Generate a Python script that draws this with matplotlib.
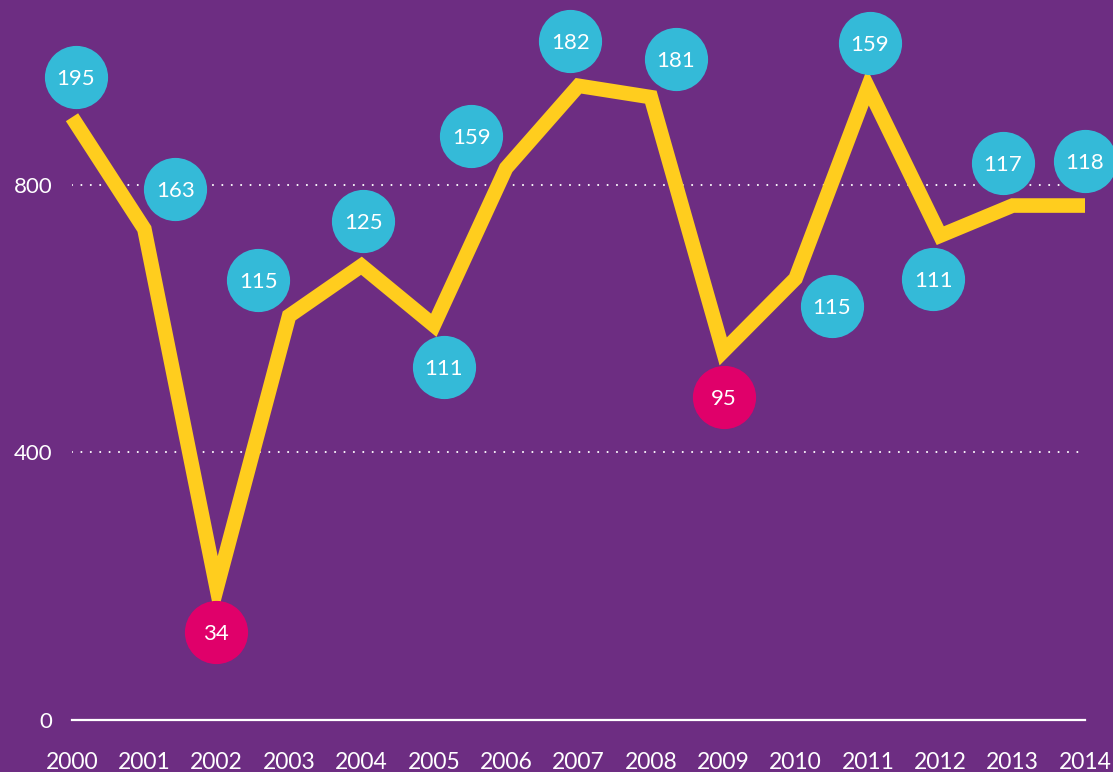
import matplotlib
matplotlib.use("Agg")
import matplotlib.pyplot as plt
from matplotlib.transforms import offset_copy

years = [2000, 2001, 2002, 2003, 2004, 2005, 2006, 2007, 2008, 2009, 2010, 2011, 2012, 2013, 2014]
values = [901, 734, 197, 604, 679, 590, 825, 948, 931, 551, 660, 946, 724, 769, 769]
bubble_labels = [195, 163, 34, 115, 125, 111, 159, 182, 181, 95, 115, 159, 111, 117, 118]
y_ticks = [0, 400, 800]

# bubble offsets from the line point, in pixels (style only)
offsets = [(4, 40), (31, 40), (-1, -44), (-31, 36), (2, 45), (10, -42), (-35, 32), (-8, 45),
           (25, 38), (1, -46), (36, -28), (2, 44), (-7, -43), (-10, 43), (0, 45)]

BG = "#6D2D82"
YELLOW = "#FFCD1E"
CYAN = "#34BAD8"
MAGENTA = "#E0006A"

plt.rcParams['font.family'] = ['Lato', 'DejaVu Sans']

fig = plt.figure(figsize=(11.13, 7.72), dpi=100, facecolor=BG)
ax = fig.add_axes([72 / 1113, 52 / 772, (1085 - 72) / 1113, 720 / 772])
ax.set_facecolor(BG)
ax.set_xlim(2000, 2014)
ax.set_ylim(0, 720 / 0.669)

for t in y_ticks[1:]:
    ax.axhline(t, color="white", lw=1.5, linestyle=(0, (0.01, 4.5)),
               dash_capstyle="round", zorder=1)

ax.plot(years, values, color=YELLOW, lw=10.5, solid_joinstyle="miter",
        solid_capstyle="butt", zorder=2, clip_on=False)

for x, y, lab, (dx, dy) in zip(years, values, bubble_labels, offsets):
    tr = offset_copy(ax.transData, fig=fig, x=dx, y=dy, units="dots")
    col = MAGENTA if lab < 100 else CYAN
    ax.plot([x], [y], marker="o", ms=45.5, mfc=col, mec="none", transform=tr,
            zorder=3, clip_on=False)
    ax.text(x, y, str(lab), transform=tr, ha="center", va="center_baseline",
            color="white", fontsize=16, zorder=4, clip_on=False)

for s in ["top", "right", "left"]:
    ax.spines[s].set_visible(False)
ax.spines["bottom"].set_color("white")
ax.spines["bottom"].set_linewidth(1.6)
ax.spines["bottom"].set_zorder(1)

ax.set_xticks(years)
ax.set_xticklabels([str(y) for y in years])
ax.set_yticks(y_ticks)
ax.set_yticklabels([str(t) for t in y_ticks])
ax.tick_params(axis="x", length=0, pad=23, colors="white", labelsize=16.5)
ax.tick_params(axis="y", length=0, pad=14, colors="white", labelsize=16)

fig.savefig("out.png", dpi=100, facecolor=BG)
